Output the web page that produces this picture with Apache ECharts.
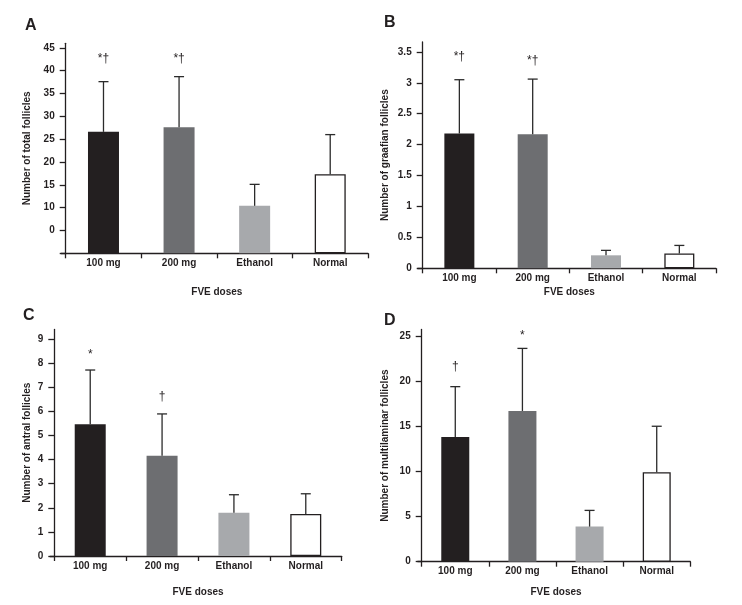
<!DOCTYPE html>
<html>
<head>
<meta charset="utf-8">
<script src="https://cdn.jsdelivr.net/npm/echarts@6/dist/echarts.min.js"></script>
<style>
html,body{margin:0;padding:0;background:#fff;}
#chart{width:742px;height:605px;}
</style>
</head>
<body>
<div id="chart"></div>
<script>
// ---------- data ----------
const CATEGORIES = ['100 mg', '200 mg', 'Ethanol', 'Normal'];
const X_NAME = 'FVE doses';

// Panel A: total follicles
const A_MEAN  = [26.6, 27.6, 10.4, 17.3];
const A_UPPER = [37.6, 38.7, 15.1, 26.0];
const A_MARKS = ['*†', '*†', '', ''];
const A_MARK_Y = [42.7, 42.7, null, null];
const A_TICKS = [0, 5, 10, 15, 20, 25, 30, 35, 40, 45];
const A_TICK_LABELS = ['', '0', '10', '15', '20', '25', '30', '35', '40', '45'];

// Panel B: graafian follicles
const B_MEAN  = [2.18, 2.17, 0.21, 0.24];
const B_UPPER = [3.05, 3.06, 0.29, 0.37];
const B_MARKS = ['*†', '*†', '', ''];
const B_MARK_Y = [3.43, 3.35, null, null];
const B_TICKS = [0, 0.5, 1, 1.5, 2, 2.5, 3, 3.5];
const B_TICK_LABELS = ['0', '0.5', '1', '1.5', '2', '2.5', '3', '3.5'];

// Panel C: antral follicles
const C_MEAN  = [5.46, 4.16, 1.79, 1.74];
const C_UPPER = [7.71, 5.89, 2.54, 2.58];
const C_MARKS = ['*', '†', '', ''];
const C_MARK_Y = [8.35, 6.61, null, null];
const C_TICKS = [0, 1, 2, 3, 4, 5, 6, 7, 8, 9];
const C_TICK_LABELS = ['0', '1', '2', '3', '4', '5', '6', '7', '8', '9'];

// Panel D: multilaminar follicles
const D_MEAN  = [13.85, 16.75, 3.9, 9.95];
const D_UPPER = [19.45, 23.7, 5.7, 15.05];
const D_MARKS = ['†', '*', '', ''];
const D_MARK_Y = [21.67, 25.1, null, null];
const D_TICKS = [0, 5, 10, 15, 20, 25];
const D_TICK_LABELS = ['0', '5', '10', '15', '20', '25'];

// ---------- styles ----------
const INK = '#231f20';
const BAR_COLORS = ['#231f20', '#6d6e71', '#a7a9ac', '#ffffff'];
const FONT = '"Liberation Sans", Arial, Helvetica, sans-serif';

const panels = [
  { letter: 'A', lx: 25, ly: 18, mean: A_MEAN, upper: A_UPPER, marks: A_MARKS, markY: A_MARK_Y,
    ticks: A_TICKS, tickLabels: A_TICK_LABELS, yName: 'Number of total follicles',
    grid: { left: 65.7, top: 43.3, width: 302.3, height: 210 }, xExt: 4.7, ymax: 46,
    yNameGap: 33, xNameGap: 34, barWidth: 31 },
  { letter: 'B', lx: 384, ly: 15, mean: B_MEAN, upper: B_UPPER, marks: B_MARKS, markY: B_MARK_Y,
    ticks: B_TICKS, tickLabels: B_TICK_LABELS, yName: 'Number of graafian follicles',
    grid: { left: 422.7, top: 42, width: 293.3, height: 226.3 }, xExt: 5, ymax: 3.66,
    yNameGap: 32, xNameGap: 19, barWidth: 30 },
  { letter: 'C', lx: 23, ly: 308, mean: C_MEAN, upper: C_UPPER, marks: C_MARKS, markY: C_MARK_Y,
    ticks: C_TICKS, tickLabels: C_TICK_LABELS, yName: 'Number of antral follicles',
    grid: { left: 54.3, top: 329.5, width: 287.4, height: 226.5 }, xExt: 4.3, ymax: 9.39,
    yNameGap: 22, xNameGap: 31, barWidth: 31 },
  { letter: 'D', lx: 384, ly: 313, mean: D_MEAN, upper: D_UPPER, marks: D_MARKS, markY: D_MARK_Y,
    ticks: D_TICKS, tickLabels: D_TICK_LABELS, yName: 'Number of multilaminar follicles',
    grid: { left: 421.7, top: 329.5, width: 268.6, height: 232.2 }, xExt: 4, ymax: 25.8,
    yNameGap: 31, xNameGap: 26, barWidth: 28 }
];

const grids = [], xAxes = [], yAxes = [], series = [], graphics = [];

panels.forEach((p, i) => {
  const g = p.grid;
  grids.push({ left: g.left, top: g.top, width: g.width, height: g.height, containLabel: false });
  // decoration grid: x axis line that extends slightly left of the y axis
  grids.push({ left: g.left - p.xExt, top: g.top, width: g.width + p.xExt, height: g.height, containLabel: false });

  const mainIdx = i * 2, decoIdx = i * 2 + 1;

  xAxes.push({
    type: 'category', gridIndex: mainIdx, data: CATEGORIES,
    axisLine: { show: false },
    axisTick: { show: true, length: 5, lineStyle: { color: INK, width: 1.3 } },
    axisLabel: { margin: 5, color: INK, fontFamily: FONT, fontWeight: 'bold', fontSize: 10 },
    splitLine: { show: false },
    name: X_NAME, nameLocation: 'middle', nameGap: p.xNameGap,
    nameTextStyle: { color: INK, fontFamily: FONT, fontWeight: 'bold', fontSize: 10 }
  });
  yAxes.push({
    type: 'value', gridIndex: mainIdx, min: 0, max: p.ymax,
    axisLine: { show: true, onZero: false, lineStyle: { color: INK, width: 1.3 } },
    axisTick: { show: true, length: 6, customValues: p.ticks, lineStyle: { color: INK, width: 1.3 } },
    axisLabel: {
      customValues: p.ticks, margin: 11, color: INK, fontFamily: FONT, fontWeight: 'bold', fontSize: 10,
      formatter: (v) => { const k = p.ticks.findIndex(t => Math.abs(t - v) < 1e-9); return k >= 0 ? p.tickLabels[k] : ''; }
    },
    splitLine: { show: false },
    name: p.yName, nameLocation: 'middle', nameGap: p.yNameGap,
    nameTextStyle: { color: INK, fontFamily: FONT, fontWeight: 'bold', fontSize: 10 }
  });

  xAxes.push({
    type: 'value', gridIndex: decoIdx, min: 0, max: 1,
    axisLine: { show: true, onZero: false, lineStyle: { color: INK, width: 1.3 } },
    axisTick: { show: false }, axisLabel: { show: false }, splitLine: { show: false }
  });
  yAxes.push({
    type: 'value', gridIndex: decoIdx, min: 0, max: 1, show: false
  });

  // bars
  series.push({
    type: 'bar', xAxisIndex: mainIdx, yAxisIndex: mainIdx, barWidth: p.barWidth,
    data: p.mean.map((v, j) => ({
      value: v,
      itemStyle: { color: BAR_COLORS[j], borderColor: j === 3 ? INK : BAR_COLORS[j], borderWidth: j === 3 ? 1.3 : 0 }
    })),
    z: 2, silent: true
  });

  // error bars (upper only)
  series.push({
    type: 'custom', xAxisIndex: mainIdx, yAxisIndex: mainIdx, z: 3, silent: true,
    data: p.mean.map((v, j) => [j, v, p.upper[j]]),
    renderItem: (params, api) => {
      const base = api.coord([api.value(0), api.value(1)]);
      const top = api.coord([api.value(0), api.value(2)]);
      const st = { stroke: '#2b2b2b', lineWidth: 1.3 };
      return { type: 'group', children: [
        { type: 'line', shape: { x1: base[0], y1: base[1], x2: top[0], y2: top[1] }, style: st },
        { type: 'line', shape: { x1: top[0] - 5, y1: top[1], x2: top[0] + 5, y2: top[1] }, style: st }
      ]};
    }
  });

  // significance marks
  series.push({
    type: 'custom', xAxisIndex: mainIdx, yAxisIndex: mainIdx, z: 4, silent: true,
    data: p.markY.map((y, j) => [j, y]).filter(d => d[1] !== null),
    renderItem: (params, api) => {
      const j = api.value(0);
      const pt = api.coord([j, api.value(1)]);
      return { type: 'text', x: pt[0], y: pt[1],
        style: { text: p.marks[j], fill: INK, fontSize: 12, fontFamily: FONT,
                 align: 'center', verticalAlign: 'middle' } };
    }
  });

  graphics.push({
    type: 'text', left: p.lx, top: p.ly,
    style: { text: p.letter, fill: INK, fontSize: 16, fontWeight: 'bold', fontFamily: FONT }
  });
});

const chart = echarts.init(document.getElementById('chart'), null, { renderer: 'canvas' });
chart.setOption({
  backgroundColor: '#ffffff',
  animation: false,
  grid: grids,
  xAxis: xAxes,
  yAxis: yAxes,
  series: series,
  graphic: graphics
});
</script>
</body>
</html>
